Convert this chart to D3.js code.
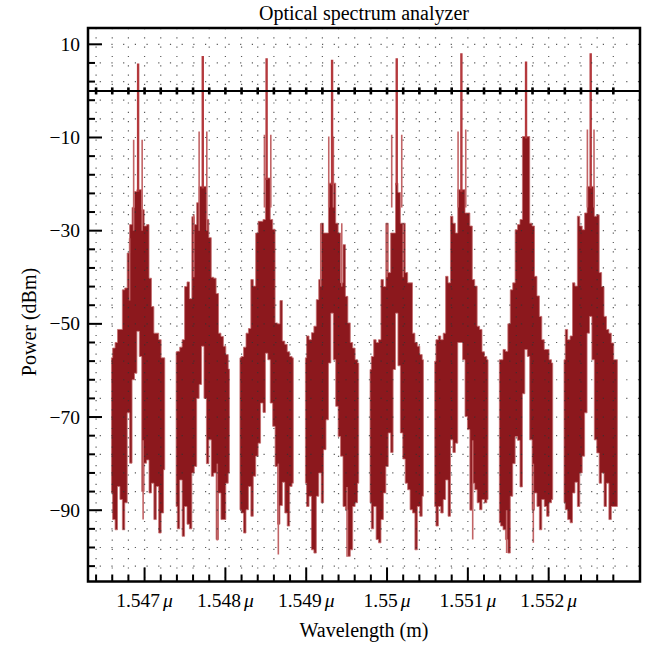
<!DOCTYPE html>
<html>
<head>
<meta charset="utf-8">
<script src="https://cdn.jsdelivr.net/npm/d3@7"></script>
<style>
  body { margin: 0; background: #fff; }
  text { font-family: "Liberation Serif", "Times New Roman", serif; fill: #000; }
</style>
</head>
<body>
<div id="chart"></div>
<script>
// channel centre wavelengths (nm) and the peak level of each carrier (dBm)
const channelCenter = [1546.92, 1547.72, 1548.51, 1549.32, 1550.12, 1550.92, 1551.72, 1552.52];
const peakPower = [5.9, 7.5, 7.0, 6.7, 7.0, 8.1, 6.3, 8.1];

// sample offsets from the channel centre (nm)
const offsetNm = [-0.33, -0.30, -0.27, -0.24, -0.21, -0.18, -0.15, -0.12, -0.09, -0.06, -0.03, 0,
  0.03, 0.06, 0.09, 0.12, 0.15, 0.18, 0.21, 0.24, 0.27, 0.30, 0.33];

// top of the dense spectrum for each channel (dBm), one value per offset
const upperEnvelope = [
  [-57.3, -55.2, -54, -51.2, -51.2, -42.7, -42.3, -34.8, -28.7, -25, -21.6, -21.2, -21.2, -25.5, -29, -28.7, -40.2, -46.3, -52, -52, -53.4, -57.3, -57.3],
  [-56, -55.9, -55, -53.4, -42, -41, -44.6, -27, -28.7, -24, -20.5, -20.5, -20.5, -27.6, -31.5, -40, -40.2, -43.5, -52, -52.7, -54.8, -56.6, -59.7],
  [-57.3, -57, -55, -52, -51, -40.5, -41.9, -30.5, -28, -28, -27.6, -18.7, -18.7, -27.6, -29.7, -49.8, -50, -45, -53.7, -54.4, -56, -57, -57.3],
  [-57.3, -52.6, -53.4, -51.9, -50.5, -44.8, -40.5, -28.4, -30.5, -30.5, -19.8, -19.8, -19.8, -28.4, -30.5, -41.2, -33, -44.1, -49.8, -54, -55.2, -57.7, -58.4],
  [-59.8, -57, -53.4, -54, -53.4, -40.5, -42, -28.4, -39, -30.5, -30.5, -19.8, -21.8, -28.4, -28.4, -39, -41.2, -41.2, -52, -54, -54.8, -56.6, -57.7],
  [-58, -53.4, -52.6, -53.4, -52, -39.8, -41.2, -26.9, -28.4, -30.5, -21.2, -21.2, -21.2, -26.2, -26.2, -29, -40.5, -41.9, -50.5, -51.2, -56, -57, -57.7],
  [-57.7, -57.7, -55.5, -55.9, -50, -42.7, -41.2, -29.8, -28.7, -27.6, -9.8, -9.8, -9.8, -28.4, -29, -39.8, -44, -48.4, -53.4, -55.5, -55.5, -57.7, -58.4],
  [-57.7, -51.2, -53.4, -52.6, -41.2, -41.9, -26.9, -29, -29.8, -26.2, -20.5, -20.5, -20.5, -26.9, -26.6, -39, -42, -48.4, -51.2, -52, -54.1, -57.7, -57.7]
];

// bottom of the dense spectrum for each channel (dBm)
const lowerEnvelope = [
  [-86.3, -92, -94.2, -84.9, -87.7, -94.2, -88.4, -69.1, -79.9, -62, -60.6, -51.6, -57, -86, -79.9, -79.2, -86.3, -84.2, -92, -84.9, -94.9, -90.6, -81.3],
  [-89.2, -94, -83.5, -95.6, -89.2, -93, -94, -82, -80.6, -66, -63, -54.8, -66, -80, -74.9, -82.7, -82, -96.3, -86.3, -92, -92, -84.2, -82],
  [-89.9, -90.6, -94.9, -89.9, -84.9, -91.3, -82.7, -78.4, -75.6, -67, -69, -56.3, -57.7, -67, -72, -80.6, -93, -89, -84, -90.6, -93.4, -84.9, -84.2],
  [-84.2, -89.2, -87, -98.5, -99.2, -87, -82, -88.4, -77, -70.6, -58.4, -47.7, -57.7, -67.7, -74.2, -78.4, -89.2, -89.9, -99.9, -98.5, -89.2, -88.4, -84.2],
  [-88.4, -94, -89.2, -96.3, -97, -92, -86.3, -80.6, -73.4, -77.6, -59.8, -47.7, -59, -73.4, -79, -84.2, -85.6, -89.9, -90.6, -98.5, -89.2, -91.3, -87],
  [-89.2, -93.4, -89.2, -90.6, -87.7, -83.5, -91.3, -74.9, -77.6, -75.6, -54, -54, -57.7, -69.9, -72.7, -90, -84.2, -85.6, -88.4, -89.9, -87.7, -88.4, -87.7],
  [-92.7, -93.4, -94.2, -96.3, -99.2, -87, -80, -74.2, -75, -85, -65, -55.5, -57, -74.9, -90, -86.3, -89.2, -94.2, -87.7, -89.2, -91.3, -88.4, -87.7],
  [-88.4, -89.9, -92, -92.7, -86.3, -84, -89.2, -82, -78.4, -69.1, -52, -48.4, -57.7, -74.9, -77.7, -84.2, -82, -89.2, -84.2, -92, -89.2, -89.2, -89.2]
];

// thin isolated spectral lines: [offset nm, top dBm, bottom dBm]
const sideSpikes = [
  [[-0.055, -10.5, -30], [0.05, -10.5, -30], [-0.105, -31.6, -45], [0.062, -75, -92]],
  [[-0.045, -8.7, -30], [0.05, -8.7, -30], [-0.11, -26.5, -40], [0.18, -80, -96.5]],
  [[-0.027, -9.4, -25], [0.052, -9.4, -25], [0.145, -80, -99.5]],
  [[-0.041, -9.8, -25], [0.016, -9.8, -25], [0.12, -28.4, -42], [-0.14, -28.4, -42], [0.185, -85, -100]],
  [[-0.062, -9.4, -25], [0.062, -9.4, -25], [-0.12, -28.4, -40], [0.08, -28.4, -40]],
  [[-0.041, -8.7, -25], [0.054, -8.3, -25], [0.14, -75, -96.3]],
  [[0.09, -80, -97], [-0.24, -90, -99.2]],
  [[-0.041, -8.3, -25], [0.041, -8.3, -25]]
];

const xMajor = [1547, 1548, 1549, 1550, 1551, 1552];
const xTickLabels = ['1.547', '1.548', '1.549', '1.55', '1.551', '1.552'];
const yMajor = [10, -10, -30, -50, -70, -90];
const yTickLabels = ['10', '\u221210', '\u221230', '\u221250', '\u221270', '\u221290'];

let width = 648, height = 646;
let frame = {left: 88, right: 640, top: 28, bottom: 581.5};

let x = d3.scaleLinear().domain([1546.30, 1553.13]).range([frame.left, frame.right]);
let y = d3.scaleLinear().domain([-105.3, 13.5]).range([frame.bottom, frame.top]);

let xMinor = d3.range(0, 33).map(i => 1546.4 + i * 0.2);
let yMinor = d3.range(0, 29).map(i => 10 - i * 4);

let svg = d3.select('#chart')
.append('svg')
.attr('width', width)
.attr('height', height);

svg.append('defs').append('clipPath')
.attr('id', 'plotClip')
.append('rect')
.attr('x', frame.left)
.attr('y', frame.top)
.attr('width', frame.right - frame.left)
.attr('height', frame.bottom - frame.top);

let plot = svg.append('g').attr('clip-path', 'url(#plotClip)');

// spectrum
let area = d3.area()
.x(d => x(d.w))
.y0(d => y(d.lo))
.y1(d => y(d.hi))
.curve(d3.curveStep);

channelCenter.forEach(function(c, i) {
  let pts = offsetNm.map((o, j) => ({w: c + o, hi: upperEnvelope[i][j], lo: lowerEnvelope[i][j]}));
  plot.append('path')
  .datum(pts)
  .attr('d', area)
  .attr('fill', '#8c181d')
  .attr('stroke', '#c46a6c')
  .attr('stroke-width', 0.8);

  sideSpikes[i].forEach(function(s) {
    plot.append('line')
    .attr('x1', x(c + s[0])).attr('x2', x(c + s[0]))
    .attr('y1', y(s[1])).attr('y2', y(s[2]))
    .attr('stroke', '#c26466')
    .attr('stroke-width', 1.6);
  });

  plot.append('line')
  .attr('x1', x(c)).attr('x2', x(c))
  .attr('y1', y(peakPower[i]))
  .attr('y2', y(upperEnvelope[i][11]) + 2)
  .attr('stroke', '#b4393d')
  .attr('stroke-width', 2.4);
});

// dotted grid
let grid = svg.append('g').attr('clip-path', 'url(#plotClip)');
grid.selectAll('.vgrid')
.data(xMinor)
.enter().append('line')
.attr('x1', d => x(d)).attr('x2', d => x(d))
.attr('y1', frame.top).attr('y2', frame.bottom)
.attr('stroke', '#333')
.attr('stroke-width', 1.2)
.attr('stroke-dasharray', '1.2,8.1')
.attr('opacity', 0.8);
grid.selectAll('.hgrid')
.data(yMinor)
.enter().append('line')
.attr('x1', frame.left).attr('x2', frame.right)
.attr('y1', d => y(d)).attr('y2', d => y(d))
.attr('stroke', '#333')
.attr('stroke-width', 1.2)
.attr('stroke-dasharray', '1.2,10.5')
.attr('opacity', 0.8);

// horizontal axis at 0 dBm with its ticks
svg.append('line')
.attr('x1', frame.left).attr('x2', frame.right)
.attr('y1', y(0)).attr('y2', y(0))
.attr('stroke', '#000')
.attr('stroke-width', 2);
svg.selectAll('.axisTick')
.data(xMinor)
.enter().append('line')
.attr('x1', d => x(d)).attr('x2', d => x(d))
.attr('y1', y(0) - 3.5).attr('y2', y(0) + 3.5)
.attr('stroke', '#000')
.attr('stroke-width', 2.6);

// frame
svg.append('rect')
.attr('x', frame.left)
.attr('y', frame.top)
.attr('width', frame.right - frame.left)
.attr('height', frame.bottom - frame.top)
.attr('fill', 'none')
.attr('stroke', '#000')
.attr('stroke-width', 2.5);

// frame ticks, left and bottom
svg.selectAll('.yTick')
.data(yMinor)
.enter().append('line')
.attr('x1', frame.left)
.attr('x2', d => frame.left + (yMajor.indexOf(d) >= 0 ? 14 : 7))
.attr('y1', d => y(d)).attr('y2', d => y(d))
.attr('stroke', '#000')
.attr('stroke-width', 2);
svg.selectAll('.xTick')
.data(xMinor)
.enter().append('line')
.attr('x1', d => x(d)).attr('x2', d => x(d))
.attr('y1', frame.bottom)
.attr('y2', d => frame.bottom - (xMajor.some(m => Math.abs(m - d) < 1e-6) ? 14 : 7))
.attr('stroke', '#000')
.attr('stroke-width', 2);

// tick labels
svg.selectAll('.yLabel')
.data(yMajor)
.enter().append('text')
.attr('x', 80)
.attr('y', d => y(d) + 6.5)
.attr('text-anchor', 'end')
.attr('font-size', 19.5)
.text((d, i) => yTickLabels[i]);

xMajor.forEach(function(v, i) {
  let t = svg.append('text')
  .attr('x', x(v))
  .attr('y', 607)
  .attr('text-anchor', 'middle')
  .attr('font-size', 19.5);
  t.append('tspan').text(xTickLabels[i]);
  t.append('tspan').attr('dx', 3).attr('font-style', 'italic').text('\u03bc');
});

// titles
svg.append('text')
.attr('x', (frame.left + frame.right) / 2)
.attr('y', 20)
.attr('text-anchor', 'middle')
.attr('font-size', 20)
.text('Optical spectrum analyzer');

svg.append('text')
.attr('x', (frame.left + frame.right) / 2)
.attr('y', 637)
.attr('text-anchor', 'middle')
.attr('font-size', 20)
.text('Wavelength (m)');

svg.append('text')
.attr('transform', 'translate(36,322) rotate(-90)')
.attr('text-anchor', 'middle')
.attr('font-size', 20)
.text('Power (dBm)');
</script>
</body>
</html>
